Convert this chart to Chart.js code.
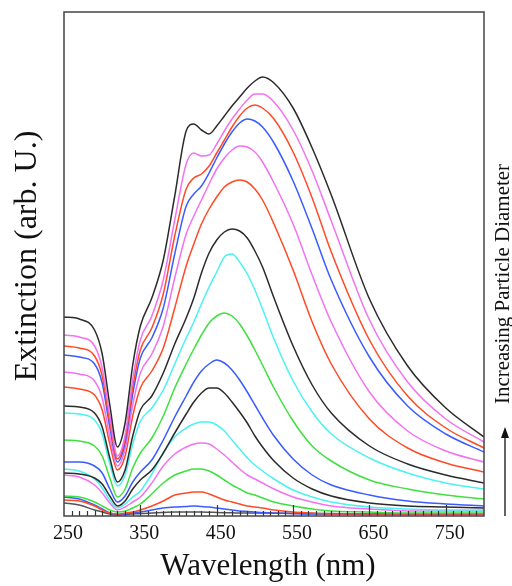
<!DOCTYPE html>
<html>
<head>
<meta charset="utf-8">
<script src="https://cdn.jsdelivr.net/npm/chart.js@4.4.0/dist/chart.umd.min.js"></script>
<style>
  html, body { margin: 0; padding: 0; background: #fff; }
  #wrap { width: 512px; height: 586px; }
</style>
</head>
<body>
<div id="wrap"><canvas id="spectra" width="512" height="586"></canvas></div>
<script>
// shared wavelength grid (nm)
const wavelength = [250, 270, 290, 300, 310, 320, 330, 340, 350, 365, 380, 395, 410, 420, 430, 440,
  450, 460, 470, 480, 490, 500, 510, 525, 550, 575, 600, 650, 700, 750, 800];

// extinction per sample, largest particles first (arb. units)
const ext01 = [199, 197, 186, 162, 111, 69, 93, 151, 190, 218, 256, 320, 385, 392, 386, 382, 390, 400, 410, 419, 428, 435, 439, 433, 408, 368, 321, 217, 150, 108, 79];
const ext02 = [181, 179, 170, 148, 100, 60, 81, 137, 176, 200, 236, 296, 352, 363, 360, 361, 372, 385, 397, 407, 416, 422, 422, 414, 386, 345, 295, 196, 134, 97, 74];
const ext03 = [170, 168, 160, 140, 94, 57, 77, 129, 166, 188, 222, 280, 327, 338, 342, 350, 363, 376, 389, 400, 408, 411, 408, 397, 364, 318, 264, 176, 120, 88, 68];
const ext04 = [161, 159, 152, 133, 89, 54, 73, 122, 158, 178, 208, 262, 310, 322, 330, 343, 358, 372, 384, 393, 397, 395, 389, 373, 335, 287, 236, 159, 110, 82, 64];
const ext05 = [144, 142, 135, 118, 79, 50, 67, 111, 143, 162, 190, 238, 282, 300, 316, 332, 347, 358, 366, 370, 369, 364, 354, 333, 292, 241, 194, 124, 85, 65, 54];
const ext06 = [129, 127, 121, 106, 72, 46, 60, 100, 128, 145, 168, 208, 250, 272, 292, 307, 319, 329, 334, 336, 334, 327, 316, 292, 246, 194, 152, 97, 68, 53, 44];
const ext07 = [110, 109, 103, 89, 58, 34, 46, 80, 106, 120, 143, 172, 198, 218, 243, 263, 276, 284, 287, 285, 278, 265, 249, 218, 170, 131, 103, 70, 52, 41, 33];
const ext08 = [103, 102, 96, 82, 52, 30, 41, 72, 95, 108, 126, 152, 178, 194, 212, 229, 244, 259, 262, 254, 242, 226, 207, 177, 135, 104, 82, 58, 43, 33, 27];
const ext09 = [76, 75, 70, 60, 38, 19, 27, 48, 63, 78, 100, 128, 152, 167, 181, 193, 200, 203, 200, 192, 180, 166, 151, 128, 95, 70, 55, 36, 27, 21, 17];
const ext10 = [54, 54, 50, 43, 27, 14, 20, 34, 44, 56, 76, 99, 120, 134, 145, 152, 156, 153, 146, 136, 124, 111, 98, 80, 57, 41, 31, 21, 15, 12, 10];
const ext11 = [43, 42, 38, 32, 20, 10, 15, 27, 36, 46, 63, 83, 102, 114, 123, 128, 128, 123, 114, 104, 93, 80, 69, 55, 38, 27, 20, 13, 10, 9, 8];
const ext12 = [47, 45, 37, 28, 16, 8, 12, 19, 25, 42, 63, 79, 88, 92, 94, 94, 91, 85, 76, 67, 58, 51, 45, 37, 26, 19, 14, 9, 7, 6, 6];
const ext13 = [41, 39, 31, 23, 13, 6, 9, 14, 19, 33, 50, 62, 69, 72, 73, 72, 67, 61, 54, 47, 41, 37, 33, 27, 19, 14, 10, 7, 5, 5, 5];
const ext14 = [20, 19, 14, 10, 6, 4, 5, 8, 12, 22, 33, 41, 45, 47, 47, 45, 41, 36, 31, 27, 23, 21, 18, 14, 10, 7, 5, 4, 3, 3, 3];
const ext15 = [16, 15, 10, 6, 3, 2, 3, 4, 6, 10, 15, 21, 23, 24, 24, 22, 19, 16, 14, 12, 10, 9, 8, 6, 4, 3, 2, 2, 2, 2, 2];
const ext16 = [19, 17, 11, 7, 3, 1.5, 2, 3, 4, 6, 8, 9, 9.5, 10, 9.5, 9, 8, 7, 6, 5, 4.5, 4, 3.5, 3, 2.5, 2, 2, 1.5, 1.5, 1.5, 1.5];
const ext17 = [13, 11, 6, 4, 2, 1, 1.5, 2, 2.5, 3, 3.5, 4, 4, 4, 4, 3.8, 3.5, 3.3, 3.2, 3, 3, 3, 3, 2.8, 2.6, 2.5, 2.4, 2.2, 2.1, 2, 2];

const spectra = [ext01, ext02, ext03, ext04, ext05, ext06, ext07, ext08, ext09,
  ext10, ext11, ext12, ext13, ext14, ext15, ext16, ext17];

const BLACK = "#2b2b2b", MAGENTA = "#f272f2", RED = "#ff4a26",
  BLUE = "#3a5bff", GREEN = "#3fe03f", CYAN = "#4af2f2";
const lineColors = [BLACK, MAGENTA, RED, BLUE, MAGENTA, RED, BLACK, CYAN, GREEN,
  BLUE, BLACK, CYAN, MAGENTA, GREEN, RED, BLUE, "#555555"];

const majorTicks = [250, 350, 450, 550, 650, 750];

const serif = '"Liberation Serif", "Times New Roman", serif';

const datasets = spectra.map((vals, i) => ({
  label: "sample " + (i + 1),
  data: wavelength.map((w, j) => ({ x: w, y: vals[j] })),
  borderColor: lineColors[i],
  borderWidth: 1.5,
  pointRadius: 0,
  fill: false,
  cubicInterpolationMode: "monotone"
}));

// box around the plot + inward ticks along the bottom
const frame = {
  id: "frame",
  afterDatasetsDraw(chart) {
    const { ctx, chartArea: a, scales: { x } } = chart;
    ctx.save();
    ctx.strokeStyle = "#333";
    ctx.lineWidth = 1.2;
    for (let w = 260; w < 800; w += 10) {
      const px = Math.round(x.getPixelForValue(w)) + 0.5;
      const len = (w % 100 === 50) ? 11 : 5;
      ctx.beginPath();
      ctx.moveTo(px, a.bottom);
      ctx.lineTo(px, a.bottom - len);
      ctx.stroke();
    }
    ctx.strokeStyle = "#444";
    ctx.lineWidth = 1.5;
    ctx.strokeRect(a.left, a.top, a.right - a.left, a.bottom - a.top);
    ctx.restore();
  }
};

// axis titles, the rotated note and its arrow
const labels = {
  id: "labels",
  afterDraw(chart) {
    const { ctx, chartArea: a } = chart;
    ctx.save();
    ctx.fillStyle = "#111";
    ctx.textAlign = "center";
    ctx.textBaseline = "middle";

    ctx.font = "31px " + serif;
    ctx.fillText("Wavelength (nm)", 268, 567);

    ctx.save();
    ctx.font = "32px " + serif;
    ctx.translate(28, 256);
    ctx.rotate(-Math.PI / 2);
    ctx.fillText("Extinction (arb. U.)", 0, 0);
    ctx.restore();

    const cx = a.right + 20;
    ctx.save();
    ctx.font = "21px " + serif;
    ctx.translate(cx - 1, 284);
    ctx.rotate(-Math.PI / 2);
    ctx.fillText("Increasing Particle Diameter", 0, 0);
    ctx.restore();

    ctx.strokeStyle = "#111";
    ctx.lineWidth = 1.3;
    ctx.beginPath();
    ctx.moveTo(cx + 1, a.bottom);
    ctx.lineTo(cx + 1, 436);
    ctx.stroke();
    ctx.beginPath();
    ctx.moveTo(cx + 1, 427);
    ctx.lineTo(cx - 3, 438);
    ctx.lineTo(cx + 5, 438);
    ctx.closePath();
    ctx.fill();
    ctx.restore();
  }
};

const ctx = document.getElementById("spectra").getContext("2d");

new Chart(ctx, {
  type: "line",
  data: { datasets },
  options: {
    responsive: false,
    animation: false,
    devicePixelRatio: 1,
    layout: { padding: { top: 12, right: 28, left: 0, bottom: 0 } },
    plugins: {
      legend: { display: false },
      tooltip: { enabled: false }
    },
    scales: {
      x: {
        type: "linear",
        min: 250,
        max: 800,
        afterBuildTicks: s => { s.ticks = majorTicks.map(v => ({ value: v })); },
        afterFit: s => { s.height = 70; },
        grid: { display: false, drawTicks: false },
        border: { display: false },
        ticks: {
          color: "#111",
          font: { family: serif, size: 20 },
          padding: 6,
          labelOffset: 4,
          maxRotation: 0,
          autoSkip: false
        }
      },
      y: {
        min: 0,
        max: 504,
        afterFit: s => { s.width = 64; },
        grid: { display: false, drawTicks: false },
        border: { display: false },
        ticks: { display: false }
      }
    }
  },
  plugins: [frame, labels]
});
</script>
</body>
</html>
